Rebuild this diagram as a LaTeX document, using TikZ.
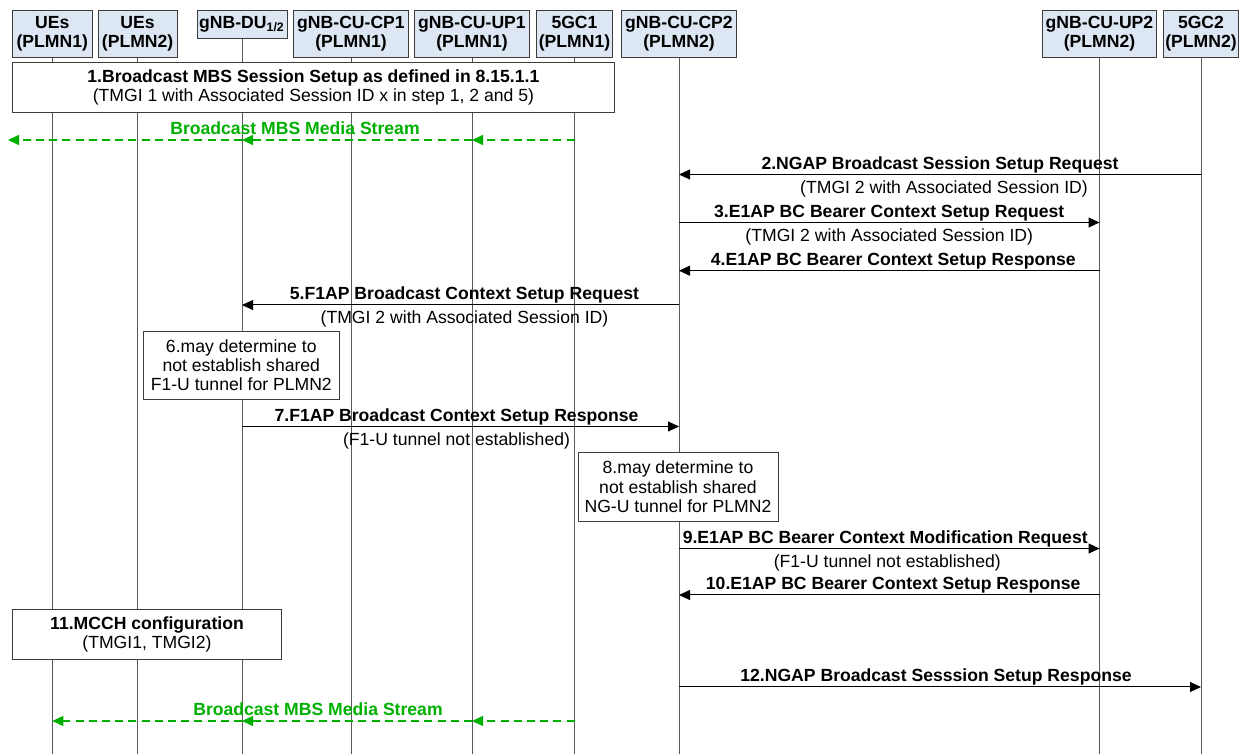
\documentclass[tikz,border=0pt]{standalone}
\usepackage{fontspec}
\setmainfont{Liberation Sans}
\usetikzlibrary{arrows.meta,positioning}
\usepackage{xcolor}

\newcommand{\sqfont}{\fontsize{8.8}{9.6}\selectfont}
\definecolor{hdrblue}{RGB}{221,231,243}
\definecolor{boxline}{RGB}{60,60,60}
\definecolor{lifegray}{RGB}{90,90,90}
\definecolor{streamgreen}{RGB}{0,176,0}

\begin{document}
\begin{tikzpicture}[
  x=0.5pt, y=-0.5pt,
  font=\sqfont,
  head/.style={rectangle, draw=boxline, fill=hdrblue, inner sep=0pt, minimum height=23.6pt, align=center, font=\sqfont\bfseries},
  note/.style={rectangle, draw=boxline, fill=white, inner sep=0pt, align=center},
  life/.style={draw=lifegray, line width=0.5pt},
  arrow/.style={-{Triangle[length=5.5pt,width=5pt]}, line width=0.5pt},
  stream/.style={-{Triangle[length=5.5pt,width=5pt]}, draw=streamgreen, fill=streamgreen, dash pattern=on 4pt off 2.6pt, line width=0.7pt},
  lbl/.style={anchor=base, yshift=2.6pt, inner sep=0pt, font=\sqfont\bfseries},
  sub/.style={anchor=base, yshift=-9.3pt, inner sep=0pt},
  medialbl/.style={anchor=base, inner sep=0pt, text=streamgreen, font=\sqfont\bfseries}
]
  \useasboundingbox (0,0) rectangle (1239,754);

  % entities
  \node[head, minimum width=40pt] (ue1) at (52.3,33.7) {UEs\\(PLMN1)};
  \node[head, minimum width=39.5pt] (ue2) at (137.6,33.7) {UEs\\(PLMN2)};
  \node[head, minimum width=45pt, minimum height=14.2pt] (du) at (242,24.2) {gNB-DU\textsubscript{1/2}};
  \node[head, minimum width=57.7pt] (cp1) at (351,33.7) {gNB-CU-CP1\\(PLMN1)};
  \node[head, minimum width=57.7pt] (up1) at (472,33.7) {gNB-CU-UP1\\(PLMN1)};
  \node[head, minimum width=37.8pt] (cn1) at (574.5,33.7) {5GC1\\(PLMN1)};
  \node[head, minimum width=57.2pt] (cp2) at (679,33.7) {gNB-CU-CP2\\(PLMN2)};
  \node[head, minimum width=56.7pt] (up2) at (1099.5,33.7) {gNB-CU-UP2\\(PLMN2)};
  \node[head, minimum width=37.8pt] (cn2) at (1201,33.7) {5GC2\\(PLMN2)};

  % lifelines
  \foreach \n in {ue1,ue2,du,cp1,up1,cn1,cp2,up2,cn2}
    \draw[life] (\n.south) -- (\n.south |- 0,754);

  % step 1
  \node[note, minimum width=300.7pt, minimum height=25pt] (setup1) at (313.4,87.7)
    {\textbf{1.Broadcast MBS Session Setup as defined in 8.15.1.1}\\(TMGI 1 with Associated Session ID x in step 1, 2 and 5)};

  % media stream PLMN1
  \coordinate (edge1) at (8,140);
  \draw[stream] (cn1 |- 0,140) -- (up1 |- 0,140);
  \draw[stream] (up1 |- 0,140) -- (du |- 0,140);
  \draw[stream] (du |- 0,140) -- (edge1);
  \node[medialbl] (media1) at (295,134.2) {Broadcast MBS Media Stream};

  % steps 2-5
  \draw[arrow] (cn2 |- 0,174.5) -- (cp2 |- 0,174.5)
    node[lbl, midway] {2.NGAP Broadcast Session Setup Request}
    node[sub, midway, xshift=2pt] {(TMGI 2 with Associated Session ID)};
  \draw[arrow] (cp2 |- 0,222.5) -- (up2 |- 0,222.5)
    node[lbl, midway] {3.E1AP BC Bearer Context Setup Request}
    node[sub, midway] {(TMGI 2 with Associated Session ID)};
  \draw[arrow] (up2 |- 0,270.7) -- (cp2 |- 0,270.7)
    node[lbl, midway, xshift=2pt] {4.E1AP BC Bearer Context Setup Response};
  \draw[arrow] (cp2 |- 0,305) -- (du |- 0,305)
    node[lbl, midway, xshift=2pt] {5.F1AP Broadcast Context Setup Request}
    node[sub, midway, xshift=2pt] {(TMGI 2 with Associated Session ID)};

  % step 6
  \node[note, minimum width=97.6pt, minimum height=33.8pt] (step6) at (241.3,365.5)
    {6.may determine to\\not establish shared\\F1-U tunnel for PLMN2};

  % step 7
  \draw[arrow] (du |- 0,426.5) -- (cp2 |- 0,426.5)
    node[lbl, midway, xshift=-2pt] {7.F1AP Broadcast Context Setup Response}
    node[sub, midway, xshift=-2pt] {(F1-U tunnel not established)};

  % step 8
  \node[note, minimum width=100pt, minimum height=34.2pt] (step8) at (678,486.9)
    {8.may determine to\\not establish shared\\NG-U tunnel for PLMN2};

  % steps 9-10
  \draw[arrow] (cp2 |- 0,548.5) -- (up2 |- 0,548.5)
    node[lbl, midway, xshift=-2pt] {9.E1AP BC Bearer Context Modification Request}
    node[sub, midway, xshift=-1pt] {(F1-U tunnel not established)};
  \draw[arrow] (up2 |- 0,595) -- (cp2 |- 0,595)
    node[lbl, midway, xshift=2pt] {10.E1AP BC Bearer Context Setup Response};

  % step 11
  \node[note, minimum width=134.2pt, minimum height=25pt] (step11) at (147,634.3)
    {\textbf{11.MCCH configuration}\\(TMGI1, TMGI2)};

  % step 12
  \draw[arrow] (cp2 |- 0,687) -- (cn2 |- 0,687)
    node[lbl, midway, xshift=-2pt] {12.NGAP Broadcast Sesssion Setup Response};

  % media stream PLMN2
  \draw[stream] (cn1 |- 0,721) -- (up1 |- 0,721);
  \draw[stream] (up1 |- 0,721) -- (du |- 0,721);
  \draw[stream] (du |- 0,721) -- (ue1 |- 0,721);
  \node[medialbl] (media2) at (318,715.6) {Broadcast MBS Media Stream};
\end{tikzpicture}
\end{document}
